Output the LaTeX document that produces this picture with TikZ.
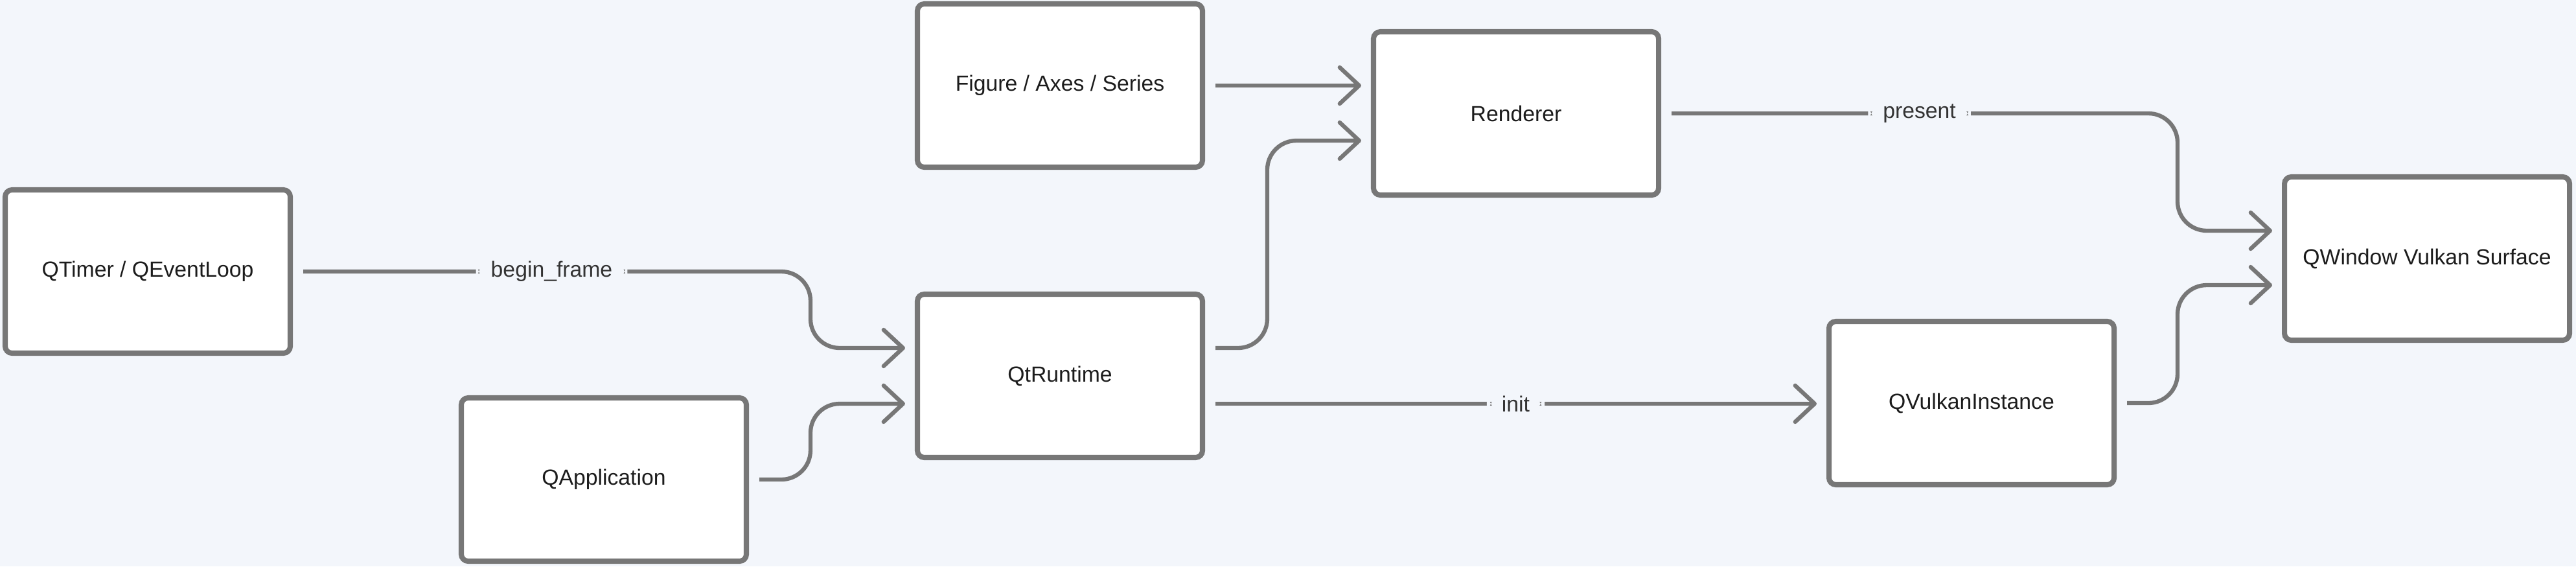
\documentclass[tikz,border=0pt]{standalone}
\usepackage{fontspec}
\setmainfont{Liberation Sans}
\usetikzlibrary{positioning,arrows.meta,calc}
\definecolor{flowbg}{HTML}{F3F6FB}
\definecolor{flowline}{HTML}{777777}
\definecolor{flowink}{HTML}{1C1C1C}
\tikzset{
  block/.style={draw=flowline,fill=white,line width=2.3pt,rounded corners=3pt,minimum width=44mm,minimum height=25.2mm,align=center,font=\fontsize{9.6}{11}\selectfont,text=flowink},
  flow/.style ={draw=flowline,line width=1.8pt,rounded corners=4.5mm,shorten <=1.6mm,shorten >=1.5mm,-{Straight Barb[length=3mm,width=5.6mm,round]}},
  lbl/.style  ={fill=flowbg,inner xsep=2.3mm,inner ysep=1mm,font=\fontsize{9.6}{11}\selectfont,text=flowink!90},
}

\begin{document}
\begin{tikzpicture}
  \fill[flowbg] (0,0) rectangle (39.76,-8.74);
  \useasboundingbox (0,0) rectangle (39.76,-8.74);

  \node[block] (timer) at (2.28,-4.19) {QTimer / QEventLoop};
  \node[block] (app)   at (9.32,-7.40) {QApplication};
  \node[block] (fig)   at (16.36,-1.32) {Figure / Axes / Series};
  \node[block] (rt)    at (16.36,-5.80) {QtRuntime};
  \node[block] (rend)  at (23.40,-1.75) {Renderer};
  \node[block] (vk)    at (30.43,-6.22) {QVulkanInstance};
  \node[block] (win)   at (37.46,-3.99) {QWindow Vulkan Surface};

  % left side into the runtime
  \draw[flow] (timer.east) -| node[lbl,pos=0.25]{begin\_frame} ([xshift=-16.1mm,yshift=4.3mm]rt.west) -- ([yshift=4.3mm]rt.west);
  \draw[flow] (app.east) -| ([xshift=-16.1mm,yshift=-4.3mm]rt.west) -- ([yshift=-4.3mm]rt.west);

  % renderer inputs
  \draw[flow] (fig.east) -- (fig.east -| rend.west);
  \draw[flow] ([yshift=4.3mm]rt.east) -| ([xshift=-16mm,yshift=-4.2mm]rend.west) -- ([yshift=-4.2mm]rend.west);
  \draw[flow] ([yshift=-4.3mm]rt.east) -- node[lbl]{init} ([yshift=-4.3mm]rt.east -| vk.west);

  % into the surface
  \draw[flow] (rend.east) -| node[lbl,pos=0.25]{present} ([xshift=-16.1mm,yshift=4.3mm]win.west) -- ([yshift=4.3mm]win.west);
  \draw[flow] (vk.east) -| ([xshift=-16.1mm,yshift=-4.1mm]win.west) -- ([yshift=-4.1mm]win.west);
\end{tikzpicture}
\end{document}
